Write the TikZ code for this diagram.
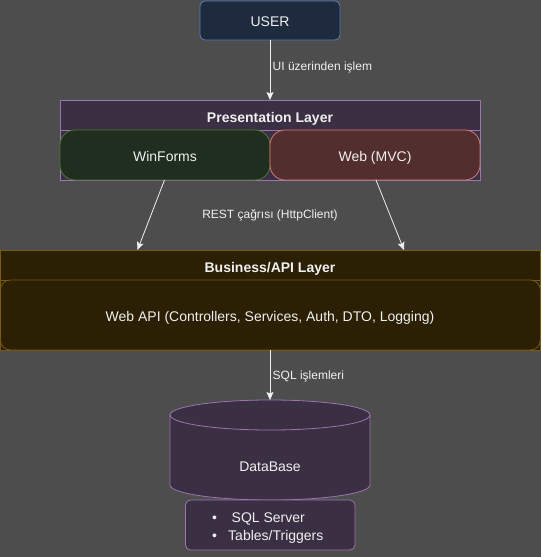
\documentclass[tikz,border=0pt]{standalone}
\usepackage{fontspec}
\setmainfont{Liberation Sans}
\usetikzlibrary{arrows.meta}
\definecolor{bgc}{HTML}{4D4D4D}
\definecolor{txt}{HTML}{F0F0F0}
\definecolor{userfill}{HTML}{1E2A3D}
\definecolor{userline}{HTML}{5C7FB5}
\definecolor{purpfill}{HTML}{3B2F43}
\definecolor{purpline}{HTML}{9C74AE}
\definecolor{greenfill}{HTML}{1F2E1E}
\definecolor{greenline}{HTML}{4C7A30}
\definecolor{redfill}{HTML}{532E2E}
\definecolor{redline}{HTML}{D47A7A}
\definecolor{brownfill}{HTML}{2B1F04}
\definecolor{brownline}{HTML}{7A5A12}
\definecolor{arrowc}{HTML}{F0F0F0}
\tikzset{
  txtn/.style={inner sep=0pt, anchor=base, text=txt, font=\fontsize{14}{16}\selectfont},
  boldn/.style={inner sep=0pt, anchor=base, text=txt, font=\fontsize{14}{16}\selectfont\bfseries},
  lbl/.style={inner sep=0pt, anchor=base, text=txt, font=\fontsize{12}{14}\selectfont},
  conn/.style={draw=arrowc, line width=0.8pt, -{Stealth[length=8pt,width=7pt,inset=1.5pt]}},
  bx/.style={line width=0.8pt},
}
\begin{document}
\begin{tikzpicture}[x=1pt,y=-1pt]
\useasboundingbox[fill=bgc] (0,0) rectangle (541,557);
% USER
\draw[bx, fill=userfill, draw=userline, rounded corners=5pt] (200,1) rectangle (340,40);
\node[txtn] (user) at (270,26) {USER};
\coordinate (userb) at (270,40);
% Presentation layer
\draw[bx, fill=purpfill, draw=purpline] (60,100) rectangle (480,180);
\draw[bx, draw=purpline] (60,130) -- (480,130);
\node[boldn] (pres) at (270,122) {Presentation Layer};
\coordinate (prestop) at (270,100);
\draw[bx, fill=greenfill, draw=greenline, rounded corners=15pt] (60,130) rectangle (270,180);
\node[txtn] (winforms) at (165,161) {WinForms};
\draw[bx, fill=redfill, draw=redline, rounded corners=15pt] (270,130) rectangle (480,180);
\node[txtn] (web) at (375,161) {Web (MVC)};
% Business layer
\draw[bx, fill=brownfill, draw=brownline] (0.4,250) rectangle (540.4,350);
\draw[bx, draw=brownline] (0,280) -- (540,280);
\node[boldn] (bus) at (270,272.3) {Business/API Layer};
\draw[bx, fill=brownfill, draw=brownline, rounded corners=10pt] (0.4,280) rectangle (540.4,350);
\node[txtn] (webapi) at (270,321) {Web API (Controllers, Services, Auth, DTO, Logging)};
% Database cylinder
\fill[purpfill] (170,415) -- (170,485)
  .. controls (170,493.28) and (214.77,500) .. (270,500)
  .. controls (325.23,500) and (370,493.28) .. (370,485) -- (370,415) -- cycle;
\fill[purpfill] (270,415) ellipse[x radius=100, y radius=15];
\draw[bx, draw=purpline] (170,415) -- (170,485)
  .. controls (170,493.28) and (214.77,500) .. (270,500)
  .. controls (325.23,500) and (370,493.28) .. (370,485) -- (370,415);
\draw[bx, draw=purpline] (270,415) ellipse[x radius=100, y radius=15];
\node[txtn] (db) at (270,471) {DataBase};
% info box
\draw[bx, fill=purpfill, draw=purpline, rounded corners=5pt] (185.5,500) rectangle (355,550);
\node[txtn] (b1) at (214.5,522.7) {•};
\node[txtn, anchor=base west] (i1) at (231.5,522.7) {SQL Server};
\node[txtn] (b2) at (214.5,540) {•};
\node[txtn, anchor=base west] (i2) at (228,540) {Tables/Triggers};
% connectors
\coordinate (wfb) at (164.5,180);
\coordinate (bl) at (137.5,250);
\coordinate (wbb) at (376,180);
\coordinate (br) at (404,250);
\coordinate (busb) at (270,350);
\coordinate (dbt) at (270,400);
\draw[conn] (userb) -- (prestop);
\draw[conn] (wfb) -- (bl);
\draw[conn] (wbb) -- (br);
\draw[conn] (busb) -- (dbt);
% labels
\node[lbl, anchor=base west] (l1) at (272.5,70.3) {UI üzerinden işlem};
\node[lbl] (l2) at (270,218.5) {REST çağrısı (HttpClient)};
\node[lbl, anchor=base west] (l3) at (272.5,379) {SQL işlemleri};
\end{tikzpicture}
\end{document}
